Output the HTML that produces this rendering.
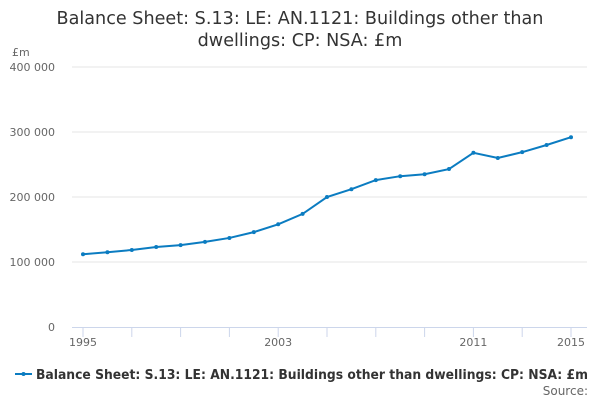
<!DOCTYPE html>
<html><head><meta charset="utf-8"><style>
body{margin:0;background:#fff;font-family:"Liberation Sans","DejaVu Sans",sans-serif}
svg{display:block}
</style></head><body>
<svg width="600" height="400">
<text x="300" y="24" text-anchor="middle" font-size="17.6" fill="#333" font-family="DejaVu Sans, sans-serif"><tspan x="300">Balance Sheet: S.13: LE: AN.1121: Buildings other than</tspan><tspan x="300" dy="22">dwellings: CP: NSA: £m</tspan></text>
<text x="12" y="56" font-size="11" fill="#666" font-family="DejaVu Sans, sans-serif">£m</text>
<g id="grid"></g><g id="xaxis"></g><g id="series"></g>
<g>
<line x1="15" y1="374" x2="32" y2="374" stroke="#0b7cc1" stroke-width="2"/><circle cx="23.5" cy="374" r="2" fill="#0b7cc1"/>
<text x="36" y="379" font-size="13" font-weight="bold" fill="#333" font-family="DejaVu Sans, sans-serif" textLength="552" lengthAdjust="spacingAndGlyphs">Balance Sheet: S.13: LE: AN.1121: Buildings other than dwellings: CP: NSA: £m</text></g>
<text x="588" y="395" text-anchor="end" font-size="12" fill="#666" font-family="DejaVu Sans, sans-serif">Source:</text>
</svg>
<script>
const years=[1995,1996,1997,1998,1999,2000,2001,2002,2003,2004,2005,2006,2007,2008,2009,2010,2011,2012,2013,2014,2015];
const values=[112000,115000,118500,123000,126000,131000,137000,146000,158000,174000,200000,212000,226000,232000,235000,243000,268000,260000,269000,280000,292000];
const yTicks=[0,100000,200000,300000,400000];
const yTickLabels=["0","100 000","200 000","300 000","400 000"];
const xLabelYears=[1995,2003,2011,2015];
const NS="http://www.w3.org/2000/svg";
const x=v=>83+(v-1995)*(571-83)/20;
const y=v=>327-v*(327-67)/400000;
function mk(t,a,p){const e=document.createElementNS(NS,t);for(const k in a)e.setAttribute(k,a[k]);p.appendChild(e);return e;}
const grid=document.getElementById('grid');
yTicks.forEach((t,i)=>{
 if(t>0){const l=mk('line',{x1:72,x2:587,y1:y(t),y2:y(t),stroke:'#e6e6e6'},grid);
 
 }
 const tx=mk('text',{x:55,y:y(t)+4,'text-anchor':'end','font-size':11,fill:'#666','font-family':'DejaVu Sans, sans-serif'},grid);
 tx.textContent=yTickLabels[i];
 
 
});
const xa=document.getElementById('xaxis');
const al=mk('line',{x1:72,x2:587,y1:327.5,y2:327.5,stroke:'#ccd6eb'},xa);


for(let yr=1995;yr<=2015;yr+=2){const tk=mk('line',{x1:x(yr),x2:x(yr),y1:327,y2:337,stroke:'#ccd6eb'},xa);
 
 }
xLabelYears.forEach(yr=>{const t=mk('text',{x:x(yr),y:346,'text-anchor':'middle','font-size':11,fill:'#666','font-family':'DejaVu Sans, sans-serif'},xa);
 t.textContent=yr;
 
 });
const s=document.getElementById('series');
const pl=mk('polyline',{points:years.map((yr,i)=>x(yr)+','+y(values[i])).join(' '),fill:'none',stroke:'#0b7cc1','stroke-width':2},s);


years.forEach((yr,i)=>{const c=mk('circle',{cx:x(yr),cy:y(values[i]),r:2,fill:'#0b7cc1'},s);
 
 });
</script>
</body></html>
